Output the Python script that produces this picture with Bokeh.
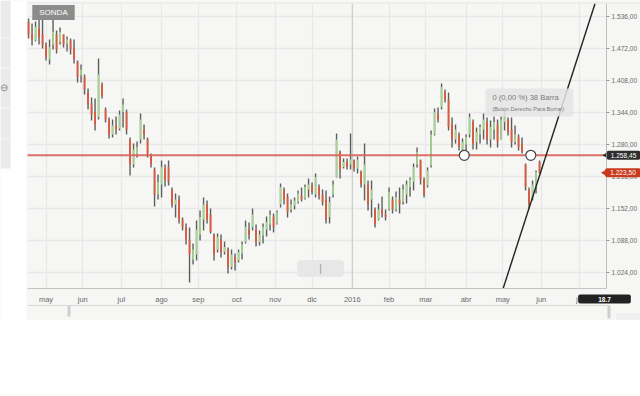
import numpy as np
import pandas as pd
from bokeh.plotting import figure
from bokeh.models import (Range1d, FixedTicker, Label, BoxAnnotation, ColumnDataSource)
from bokeh.embed import file_html
from bokeh.resources import INLINE

# ---------------- data ----------------
START = "2015-04-17"
END = "2016-06-01"
ticker_name = "SONDA"

highs = [1532,1522,1526,1530,1534,1484,1490,1530,1508,1514,
         1500,1496,1492,1490,1448,1440,1420,1392,1374,1372,
         1452,1404,1354,1334,1330,1336,1348,1372,1350,1294,
         1282,1286,1342,1320,1294,1262,1234,1220,1248,1240,
         1248,1194,1182,1178,1134,1122,1114,1082,1128,1148,
         1174,1168,1152,1102,1102,1100,1086,1074,1070,1062,
         1070,1086,1128,1124,1152,1120,1108,1122,1136,1148,
         1142,1148,1202,1194,1182,1170,1174,1188,1194,1200,
         1212,1204,1222,1200,1190,1188,1176,1208,1302,1268,
         1252,1252,1302,1250,1256,1228,1282,1208,1208,1154,
         1162,1176,1150,1194,1176,1186,1194,1200,1208,1214,
         1242,1274,1250,1214,1234,1308,1352,1354,1402,1390,
         1384,1334,1320,1304,1292,1300,1342,1330,1314,1320,
         1342,1334,1328,1336,1330,1336,1348,1334,1334,1318,
         1300,1294,1242,1194,1208,1228,1248]
lows = [1492,1478,1486,1480,1472,1448,1440,1470,1462,1480,
        1474,1466,1460,1442,1404,1404,1380,1350,1328,1308,
        1330,1372,1324,1292,1294,1300,1308,1314,1300,1218,
        1234,1254,1282,1290,1254,1234,1156,1170,1174,1196,
        1198,1154,1134,1122,1108,1080,1004,1040,1048,1088,
        1108,1122,1102,1048,1064,1054,1060,1022,1030,1028,
        1044,1050,1082,1090,1108,1076,1078,1082,1096,1108,
        1104,1120,1154,1160,1134,1144,1150,1162,1166,1170,
        1174,1180,1174,1170,1158,1122,1122,1174,1214,1212,
        1232,1230,1230,1226,1222,1194,1168,1148,1134,1114,
        1128,1134,1128,1148,1142,1146,1142,1160,1162,1176,
        1188,1234,1200,1174,1194,1234,1298,1324,1350,1364,
        1308,1274,1282,1268,1258,1262,1294,1270,1270,1282,
        1290,1280,1274,1290,1274,1290,1308,1298,1274,1280,
        1268,1262,1188,1152,1168,1182,1222]
opens = [1525,1500,1488,1512,1500,1478,1450,1480,1500,1485,
         1500,1482,1488,1472,1445,1418,1415,1385,1362,1345,
         1335,1400,1350,1330,1300,1318,1312,1345,1345,1290,
         1240,1260,1290,1310,1290,1258,1230,1180,1200,1232,
         1236,1190,1160,1170,1130,1115,1090,1050,1060,1100,
         1130,1160,1140,1100,1070,1090,1065,1070,1035,1055,
         1048,1062,1085,1110,1115,1110,1085,1098,1110,1120,
         1136,1122,1160,1190,1175,1150,1158,1165,1178,1172,
         1190,1198,1180,1195,1180,1170,1135,1180,1215,1265,
         1235,1245,1240,1248,1232,1225,1200,1200,1170,1150,
         1130,1150,1140,1150,1170,1150,1170,1165,1180,1195,
         1205,1240,1248,1210,1198,1238,1300,1340,1355,1385,
         1370,1320,1290,1300,1270,1280,1300,1325,1285,1300,
         1310,1325,1290,1310,1320,1290,1325,1330,1310,1285,
         1295,1280,1240,1190,1172,1195,1245]
closes = [1500,1490,1515,1495,1478,1455,1475,1505,1470,1505,
          1480,1490,1470,1450,1415,1430,1390,1360,1340,1320,
          1420,1378,1330,1300,1318,1310,1340,1360,1310,1240,
          1270,1275,1330,1300,1262,1240,1180,1205,1235,1210,
          1205,1160,1170,1130,1115,1090,1060,1070,1110,1135,
          1160,1130,1105,1060,1095,1065,1075,1035,1060,1045,
          1065,1080,1115,1100,1140,1085,1100,1115,1125,1140,
          1115,1145,1195,1170,1145,1160,1168,1182,1170,1195,
          1200,1185,1215,1178,1165,1130,1165,1200,1290,1230,
          1245,1235,1250,1232,1250,1200,1240,1160,1190,1120,
          1150,1140,1135,1185,1150,1175,1160,1190,1200,1210,
          1235,1265,1210,1180,1228,1300,1345,1330,1395,1370,
          1315,1290,1310,1275,1285,1295,1335,1280,1305,1315,
          1330,1290,1315,1325,1285,1330,1340,1305,1285,1300,
          1275,1265,1195,1160,1200,1225,1223.5]

month_labels = ["may", "jun", "jul", "ago", "sep", "oct", "nov", "dic",
                "2016", "feb", "mar", "abr", "may", "jun", "jul"]
y_ticks = [1024, 1088, 1152, 1216, 1280, 1344, 1408, 1472, 1536]
y_tick_labels = ["1.024,00", "1.088,00", "1.152,00", "1.216,00", "1.280,00",
                 "1.344,00", "1.408,00", "1.472,00", "1.536,00"]
level_price = 1258.45
level_label = "1.258,45"
last_price = 1223.50
last_label = "1.223,50"
measure_start = "2016-03-31"
measure_bars = 38
measure_text = "0 (0,00 %) 38 Barra"
measure_hint = "(Botón Derecho Para Borrar)"
trend_dates = ["2016-05-02", "2016-07-14"]
trend_vals = [990, 1565]
cursor_label = "18.7"
price_lo, price_hi = 992, 1562      # visible price window of the chart area

# ---------------- calendar / positions ----------------
cal = pd.bdate_range(START, "2016-08-31")
def idx_of(d):
    return int(cal.get_loc(pd.Timestamp(d)))

bar_dates = pd.bdate_range(START, END)[::2]
bar_x = [idx_of(d) for d in bar_dates]
assert len(bar_x) == len(highs) == len(lows) == len(opens) == len(closes)

periods = cal.to_period("M")
month_starts = [i for i in range(1, len(cal)) if periods[i] != periods[i - 1]]
month_starts = month_starts[:len(month_labels)]

# layout geometry (reference pixels -> data)
X_LO = -0.6
FRAME_L, FRAME_T = 27, 3
PX = 1.75            # pixels per trading day
PY = 0.5             # pixels per price unit
def xs(px):
    return X_LO + (px - FRAME_L) / PX
def ys(py):
    return price_hi - (py - FRAME_T) / PY

X_AXIS = xs(606)     # where the price axis sits

BG = "#f6f7f4"
FONT = "Liberation Sans"

p = figure(width=640, height=320, output_backend="svg", toolbar_location=None,
           x_range=Range1d(xs(0), xs(640)), y_range=Range1d(ys(320), ys(0)),
           y_axis_location="right", x_axis_location="below",
           min_border_left=0, min_border_right=0, min_border_top=0,
           min_border_bottom=0)
p.background_fill_color = BG
p.border_fill_color = "white"
p.outline_line_color = None

# axes (placed at fixed locations inside the canvas)
xa = p.xaxis[0]
xa.fixed_location = price_lo
xa.bounds = (X_LO, X_AXIS)
xa.ticker = FixedTicker(ticks=month_starts)
xa.major_label_overrides = {m: lab for m, lab in zip(month_starts, month_labels)}
xa.major_tick_out = 0
xa.major_tick_in = 0
xa.minor_tick_out = 0
xa.minor_tick_in = 0
xa.major_label_standoff = 6
xa.axis_line_color = "#c4c4c4"
xa.major_label_text_font = FONT
xa.major_label_text_font_size = "7.5px"
xa.major_label_text_color = "#6a6a6a"

ya = p.yaxis[0]
ya.fixed_location = X_AXIS
ya.bounds = (price_lo, price_hi)
ya.ticker = FixedTicker(ticks=y_ticks)
ya.major_label_overrides = {t: lab for t, lab in zip(y_ticks, y_tick_labels)}
ya.major_tick_out = 3
ya.major_tick_in = 0
ya.minor_tick_out = 0
ya.minor_tick_in = 0
ya.major_tick_line_color = "#999999"
ya.major_label_standoff = 2
ya.axis_line_color = "#bdbdbd"
ya.major_label_text_font = FONT
ya.major_label_text_font_size = "6.6px"
ya.major_label_text_color = "#6a6a6a"

p.xgrid.grid_line_color = "#e8e8e8"
p.xgrid.grid_line_width = 1.3
p.xgrid.cross_bounds = (price_lo, price_hi)
p.ygrid.grid_line_color = "#e8e8e8"
p.ygrid.grid_line_width = 1.3
p.ygrid.cross_bounds = (X_LO, X_AXIS)

# year separator
yr = month_starts[8]
p.segment(x0=[yr], x1=[yr], y0=[price_lo], y1=[price_hi],
          line_color="#c9c9c9", line_width=1)

# ---------------- bars ----------------
o = np.array(opens, dtype=float)
c = np.array(closes, dtype=float)
colors = ["#a6d493" if cc >= oo else "#e0583a" for oo, cc in zip(o, c)]
src = ColumnDataSource(dict(x=bar_x, high=highs, low=lows,
                            top=np.maximum(o, c), bottom=np.minimum(o, c),
                            color=colors))
p.segment(x0="x", y0="low", x1="x", y1="high", source=src,
          line_color="#5e5e5e", line_width=1.4)
p.vbar(x="x", width=1.0, top="top", bottom="bottom", source=src,
       fill_color="color", line_color=None)

# horizontal level line
p.segment(x0=[X_LO], x1=[X_AXIS], y0=[level_price], y1=[level_price],
          line_color="#d9605a", line_width=2, line_alpha=0.9)

# trend line, clipped to the visible price window
tx = [idx_of(d) for d in trend_dates]
slope = (trend_vals[1] - trend_vals[0]) / (tx[1] - tx[0])
tx0 = tx[0] + (price_lo - trend_vals[0]) / slope
tx1 = tx[0] + (price_hi - trend_vals[0]) / slope
p.line(x=[tx0, tx1], y=[price_lo, price_hi], line_color="#222222", line_width=1.4)

# measurement anchors
m0 = idx_of(measure_start)
p.scatter(x=[m0, m0 + measure_bars], y=[level_price, level_price], size=10,
          fill_color="white", line_color="#444444", line_width=1.2)

# tooltip
p.add_layout(BoxAnnotation(left=xs(485), right=xs(573), top=ys(88), bottom=ys(116),
                           fill_color="#e4e4e4", fill_alpha=0.85, line_color=None,
                           border_radius=3))
p.add_layout(Label(x=xs(492), y=ys(96.5), text=measure_text, text_font=FONT,
                   text_font_size="7.6px", text_color="#7a7a7a", text_baseline="middle"))
p.add_layout(Label(x=xs(492), y=ys(108.5), text=measure_hint, text_font=FONT,
                   text_font_size="5.6px", text_color="#7a7a7a", text_baseline="middle"))

# scroll button
p.add_layout(BoxAnnotation(left=xs(297), right=xs(343), top=ys(260), bottom=ys(276),
                           fill_color="#e7e7e7", fill_alpha=1, line_color="#dcdcdc",
                           border_radius=3))
p.add_layout(Label(x=xs(320), y=ys(268), text="|", text_align="center",
                   text_baseline="middle", text_font_size="10px", text_color="#9a9a9a"))

# top edge line
p.add_layout(BoxAnnotation(left=xs(27), right=xs(640), top=ys(2), bottom=ys(3),
                           fill_color="#e3e3e3", fill_alpha=1, line_color=None))

# lower navigator line and handles
p.add_layout(BoxAnnotation(left=xs(27), right=xs(608), top=ys(304.5), bottom=ys(305.5),
                           fill_color="#dadada", fill_alpha=1, line_color=None))
p.add_layout(BoxAnnotation(left=xs(67), right=xs(70), top=ys(305), bottom=ys(316),
                           fill_color="#cfcfcf", fill_alpha=1, line_color=None))
p.add_layout(BoxAnnotation(left=xs(607), right=xs(610), top=ys(305), bottom=ys(318),
                           fill_color="#cfcfcf", fill_alpha=1, line_color=None))
p.add_layout(BoxAnnotation(left=xs(616), right=xs(639), top=ys(313), bottom=ys(320),
                           fill_color="#f0f0f0", fill_alpha=1, line_color="#dddddd"))

# white margin on the left and the side tool panel
p.add_layout(BoxAnnotation(left=xs(0), right=xs(26), top=ys(0), bottom=ys(320),
                           fill_color="white", fill_alpha=1, line_color=None))
p.add_layout(BoxAnnotation(left=xs(0), right=xs(10), top=ys(0), bottom=ys(168),
                           fill_color="#eaeaea", fill_alpha=1, line_color=None))
for sep in (37, 67, 107, 138):
    p.add_layout(BoxAnnotation(left=xs(0), right=xs(10), top=ys(sep), bottom=ys(sep + 1),
                               fill_color="#f7f7f7", fill_alpha=1, line_color=None))
p.add_layout(Label(x=xs(3), y=ys(87), text="⊖", text_align="center",
                   text_baseline="middle", text_font_size="10px", text_color="#8a8a8a"))

# ticker tag
p.add_layout(Label(x=xs(53), y=ys(12), text=ticker_name, text_align="center",
                   text_baseline="middle", text_font=FONT,
                   text_font_size="8px", text_color="white",
                   background_fill_color="#8c8c8c", padding=(7, 3)))

# price tags on the right
p.scatter(x=[xs(606.5), xs(605)], y=[level_price, last_price], marker="triangle",
          angle=np.pi / 2, size=8, fill_color=["#2e2e2e", "#c9391c"], line_color=None)
p.add_layout(Label(x=xs(623), y=level_price, text=level_label, text_align="center",
                   text_baseline="middle", text_font=FONT, text_font_size="6.6px",
                   text_color="white", background_fill_color="#2e2e2e",
                   padding=(4, 2), border_radius=2))
p.add_layout(Label(x=xs(622.5), y=last_price, text=last_label, text_align="center",
                   text_baseline="middle", text_font=FONT, text_font_size="6.6px",
                   text_color="white", background_fill_color="#c9391c",
                   padding=(5, 2), border_radius=2))

# cursor date tag below the axis
p.add_layout(Label(x=xs(604), y=ys(298.5), text=cursor_label, text_align="center",
                   text_baseline="middle", text_font=FONT, text_font_size="6.5px",
                   text_font_style="bold", text_color="white",
                   background_fill_color="#222222", padding=(20, 2), border_radius=2))

open("out.html", "w").write(file_html(p, INLINE))
